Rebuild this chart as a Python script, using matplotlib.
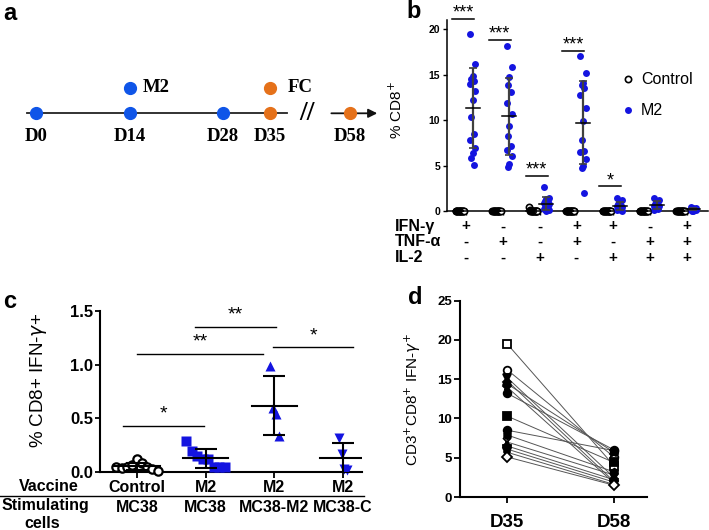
import matplotlib.pyplot as plt
import numpy as np

plt.rcParams['font.family'] = ['Liberation Sans', 'DejaVu Sans']
plt.rcParams['axes.linewidth'] = 1.3

BLUE_TL = '#0f55e8'
ORANGE_TL = '#e5711a'
BLUE = '#1414e0'

# ---- panel a : schedule ----
tl_labels = ['D0', 'D14', 'D28', 'D35', 'D58']
tl_pos = [0, 14, 28, 35, 47]          # D58 drawn after the axis break
tl_kind = ['M2', 'M2', 'M2', 'FC', 'FC']

# ---- panel b : cytokine combinations ----
b_ifn = ['+', '-', '-', '+', '+', '-', '+']
b_tnf = ['-', '+', '-', '+', '-', '+', '+']
b_il2 = ['-', '-', '+', '-', '+', '+', '+']
b_m2 = [
    [19.5, 16.2, 14.8, 14.5, 14.3, 14.0, 13.2, 12.2, 10.3, 8.5, 7.8, 6.9, 6.4, 5.8, 5.1],
    [18.1, 15.8, 14.7, 13.8, 13.1, 11.9, 10.7, 9.3, 8.2, 7.1, 6.7, 6.1, 5.2, 4.8],
    [2.6, 1.4, 1.3, 1.1, 1.0, 0.9, 0.8, 0.6, 0.4, 0.3, 0.2, 0.1, 0.0],
    [17.0, 15.2, 14.1, 13.9, 13.5, 12.7, 11.3, 9.9, 7.8, 6.6, 6.5, 5.7, 5.0, 4.7, 2.0],
    [1.4, 1.2, 1.0, 0.8, 0.6, 0.5, 0.4, 0.3, 0.2, 0.1, 0.1, 0.0],
    [1.4, 1.2, 1.0, 0.8, 0.7, 0.6, 0.5, 0.4, 0.3, 0.2, 0.1],
    [0.4, 0.35, 0.3, 0.25, 0.2, 0.15, 0.1, 0.05, 0.0],
]
b_ctrl = [
    [0.0] * 15,
    [0.05, 0.0] + [0.0] * 13,
    [0.4, 0.1, 0.05] + [0.0] * 12,
    [0.0] * 15,
    [0.0] * 15,
    [0.0] * 15,
    [0.0] * 15,
]
b_sig_group = [0, 1, 2, 3, 4]
b_sig_y = [21.1, 18.8, 3.9, 17.6, 2.7]
b_sig_txt = ['***', '***', '***', '***', '*']

# ---- panel c ----
c_vaccine = ['Control', 'M2', 'M2', 'M2']
c_stim = ['MC38', 'MC38', 'MC38-M2', 'MC38-C']
c_vals = [
    [0.05, 0.04, 0.05, 0.07, 0.12, 0.09, 0.05, 0.03, 0.01],
    [0.29, 0.20, 0.15, 0.12, 0.12, 0.05, 0.05, 0.05],
    [0.99, 0.60, 0.54, 0.34],
    [0.32, 0.17, 0.03, 0.02],
]
c_sig = [  # (x0, x1, y, text)
    (-0.2, 0.97, 0.43, '*'),
    (0.0, 1.84, 1.10, '**'),
    (0.85, 2.02, 1.35, '**'),
    (1.98, 3.15, 1.16, '*'),
]

# ---- panel d ----
d_days = ['D35', 'D58']
d_d35 = [19.5, 16.2, 15.2, 14.8, 14.4, 14.0, 13.2, 10.3, 8.5, 7.9, 7.0, 6.5, 6.1, 5.7, 5.1]
d_d58 = [4.0, 5.1, 2.5, 2.0, 5.7, 1.8, 6.0, 4.4, 5.9, 3.2, 2.8, 2.2, 1.9, 1.6, 1.5]
d_markers = ['s', 'o', 'v', '^', 'X', '*', 'o', 's', 'o', 'h', 'x', 'P', 'p', 'd', 'D']
d_open = [True, True] + [False] * 12 + [True]

W, H = 709, 530
fig = plt.figure(figsize=(W / 100, H / 100), dpi=100)


def px_axes(l, t, r, b):
    return fig.add_axes([l / W, 1 - b / H, (r - l) / W, (b - t) / H])


# ================= a =================
ax = px_axes(0, 60, 400, 160)
ax.set_xlim(-36 / 6.68, 364 / 6.68)
ax.set_ylim(0, 1)
ax.axis('off')
yl = 0.467
serif = dict(family='Liberation Serif', fontweight='bold', fontsize=13.5)
ax.plot([-1.4, 37.5], [yl, yl], color='#222222', lw=1.3, zorder=1)
ax.annotate('', xy=(51.5, yl), xytext=(43.8, yl),
            arrowprops=dict(arrowstyle='-|>', lw=1.3, color='#111111', mutation_scale=13))
ax.text(40.5, yl, '//', fontsize=20, ha='center', va='center', family='Liberation Serif',
        fontweight='bold')
for lab, p, k in zip(tl_labels, tl_pos, tl_kind):
    c = BLUE_TL if k == 'M2' else ORANGE_TL
    ax.plot(p, yl, 'o', ms=8.5, color=c, zorder=3)
    ax.text(p, 0.233, lab, ha='center', va='center', **serif)
ax.plot(14, 0.723, 'o', ms=8.5, color=BLUE_TL)
ax.text(16.0, 0.723, 'M2', ha='left', va='center', **serif)
ax.plot(35, 0.723, 'o', ms=8.5, color=ORANGE_TL)
ax.text(37.7, 0.723, 'FC', ha='left', va='center', **serif)

# ================= b =================
ax = px_axes(447, 20, 708, 211)
ax.set_xlim((447 - 466) / 36.8, (708 - 466) / 36.8)
ax.set_ylim(0, 21)
for s in ['top', 'right']:
    ax.spines[s].set_visible(False)
ax.spines['left'].set_linewidth(1.1)
ax.spines['bottom'].set_linewidth(1.1)
ax.set_yticks([0, 5, 10, 15, 20])
ax.tick_params(axis='y', labelsize=7.5, length=3, width=1, pad=2)
for t in ax.get_yticklabels():
    t.set_fontweight('bold')
ax.set_xticks(range(7))
ax.set_xticklabels([])
ax.tick_params(axis='x', length=3, width=1)

spread = np.array([-0.07, 0.07, 0.0, -0.04, 0.04])
for i, (ctl, m2) in enumerate(zip(b_ctrl, b_m2)):
    xc = i - 0.17 + np.linspace(-0.11, 0.11, len(ctl))
    ax.plot(xc, ctl, 'o', ms=4.5, mfc='white', mec='black', mew=1.2, clip_on=False, zorder=3)
    xm = i + 0.18 + np.resize(spread, len(m2))
    ax.plot(xm, m2, 'o', ms=5, color=BLUE, mec='none', clip_on=False, zorder=3)
    for xx, v, col in [(i - 0.17, ctl, 'black'), (i + 0.18, m2, '#404040')]:
        m, sd = np.mean(v), np.std(v, ddof=1)
        ax.errorbar(xx, m, yerr=sd, fmt='none', ecolor=col, elinewidth=1.6,
                    capsize=3, capthick=1.2, zorder=4, clip_on=False)
        ax.plot([xx - 0.19, xx + 0.19], [m, m], color='black', lw=1.1, zorder=5,
                clip_on=False)
for g, y, t in zip(b_sig_group, b_sig_y, b_sig_txt):
    ax.plot([g - 0.38, g + 0.22], [y, y], color='black', lw=1.1, clip_on=False)
    ax.text(g - 0.08, y - 0.3, t, ha='center', va='bottom', fontsize=13)

tr = ax.get_xaxis_transform()
rows = [('IFN-γ', b_ifn, -0.08), ('TNF-α', b_tnf, -0.16), ('IL-2', b_il2, -0.245)]
for name, signs, yy in rows:
    ax.text(-1.93, yy, name, transform=tr, ha='left', va='center', fontsize=11.5,
            fontweight='bold')
    for i, s in enumerate(signs):
        ax.text(i, yy, s, transform=tr, ha='center', va='center', fontsize=11,
                fontweight='bold')
ax.set_ylabel('% CD8$^{+}$', fontsize=11)
ax.yaxis.set_label_coords(-0.16, 0.53)
ax.plot([], [], 'o', ms=4.5, mfc='white', mec='black', mew=1.2, label='Control')
ax.plot([], [], 'o', ms=5, color=BLUE, mec='none', label='M2')
ax.legend(loc='upper left', bbox_to_anchor=(0.64, 0.76), frameon=False, fontsize=11.5,
          handlelength=1.0, handletextpad=0.3, labelspacing=1.0, borderaxespad=0)

# ================= c =================
ax = px_axes(100, 310.7, 362, 472.3)
ax.set_xlim((100 - 137) / 68.7, (362 - 137) / 68.7)
ax.set_ylim(0, 1.5)
for s in ['top', 'right']:
    ax.spines[s].set_visible(False)
ax.spines['left'].set_linewidth(1.5)
ax.spines['bottom'].set_linewidth(1.5)
ax.set_yticks([0, 0.5, 1.0, 1.5])
ax.set_yticklabels(['0.0', '0.5', '1.0', '1.5'])
ax.tick_params(axis='y', labelsize=12, length=3.5, width=1.3, pad=1.5)
for t in ax.get_yticklabels():
    t.set_fontweight('bold')
ax.set_xticks(range(4))
ax.set_xticklabels([])
ax.tick_params(axis='x', length=4, width=1.3)

c_style = [
    dict(marker='o', mfc='white', mec='black', mew=1.6, ms=6),
    dict(marker='s', color=BLUE, mec='none', ms=7),
    dict(marker='^', color=BLUE, mec='none', ms=7.5),
    dict(marker='v', color=BLUE, mec='none', ms=7.5),
]
c_spread = [0.3, 0.28, 0.06, 0.06]
for i, (v, st, sp) in enumerate(zip(c_vals, c_style, c_spread)):
    xs = i + np.linspace(-sp, sp, len(v))
    ax.plot(xs, v, ls='none', clip_on=False, zorder=3, **st)
    m, sd = np.mean(v), np.std(v, ddof=1)
    ax.errorbar(i, m, yerr=sd, fmt='none', ecolor='black', elinewidth=1.5,
                capsize=8, capthick=1.5, zorder=4)
    ax.plot([i - 0.33, i + 0.33], [m, m], color='black', lw=1.5, zorder=4)
for x0, x1, y, t in c_sig:
    ax.plot([x0, x1], [y, y], color='black', lw=1.0, clip_on=False)
    ax.text((x0 + x1) / 2, y + 0.03, t, ha='center', va='bottom', fontsize=14)

tr = ax.get_xaxis_transform()
lab = dict(transform=tr, ha='center', va='baseline', fontsize=11.5, fontweight='bold')
ax.text(-1.29, -0.115, 'Vaccine', **lab)
ax.text(-1.34, -0.235, 'Stimulating', **lab)
ax.text(-1.38, -0.345, 'cells', **lab)
for i, (vac, st) in enumerate(zip(c_vaccine, c_stim)):
    ax.text(i, -0.122, vac, **lab)
    ax.text(i, -0.244, st, **lab)
ax.plot([-2.0, 3.3], [-0.1436, -0.1436], transform=tr, color='black', lw=1.0,
        clip_on=False)
ax.set_ylabel('% CD8+ IFN-$\\gamma$+', fontsize=13.5)
ax.yaxis.set_label_coords(-0.196, 0.571)

# ================= d =================
ax = px_axes(460, 300.5, 647, 497)
ax.set_xlim(-0.44, 1.31)
ax.set_ylim(0, 25)
for s in ['top', 'right']:
    ax.spines[s].set_visible(False)
ax.spines['left'].set_linewidth(1.5)
ax.spines['bottom'].set_linewidth(1.5)
ax.set_yticks([0, 5, 10, 15, 20, 25])
ax.tick_params(axis='y', labelsize=9.5, length=4, width=1.3, pad=1.5)
for t in ax.get_yticklabels():
    t.set_fontweight('bold')
ax.set_xticks([0, 1])
ax.set_xticklabels(d_days, fontsize=13.5, fontweight='bold')
ax.tick_params(axis='x', length=4, width=1.3, pad=8)
for a, b, mk, op in zip(d_d35, d_d58, d_markers, d_open):
    ax.plot([0, 1], [a, b], color='#555555', lw=0.7, zorder=2)
    fc = 'white' if op else 'black'
    ax.plot([0, 1], [a, b], ls='none', marker=mk, ms=5.5, mfc=fc, mec='black', mew=1.3,
            zorder=3, clip_on=False)
ax.set_ylabel('CD3$^{+}$CD8$^{+}$ IFN-$\\gamma^{+}$', fontsize=11)
ax.yaxis.set_label_coords((423 - 460) / 187, 0.5)

# panel letters
for lab, x, y in [('a', 10, 14), ('b', 414, 12), ('c', 10, 302), ('d', 415, 298)]:
    fig.text(x / W, 1 - y / H, lab, fontsize=17, fontweight='bold', ha='center',
             va='center')

fig.savefig('out.png', dpi=100)
